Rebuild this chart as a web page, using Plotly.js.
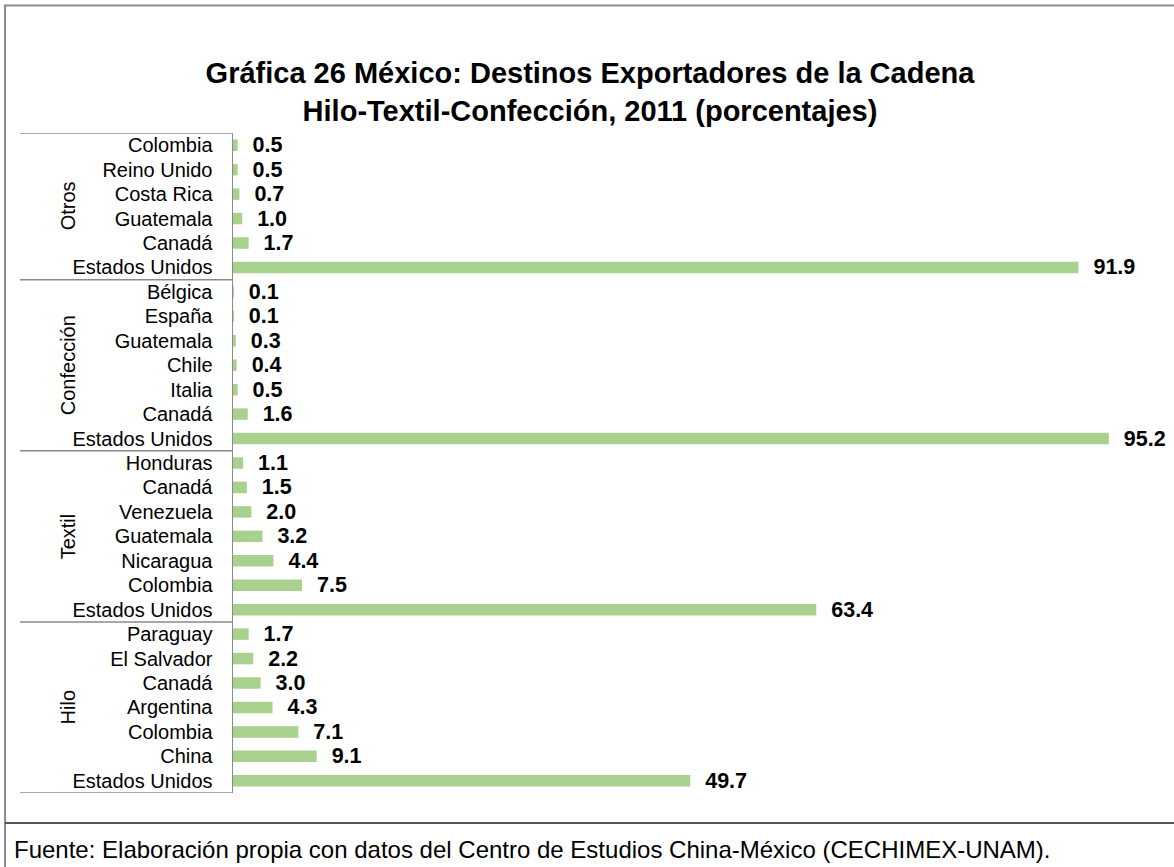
<!DOCTYPE html>
<html>
<head>
<meta charset="utf-8">
<script src="https://cdn.plot.ly/plotly-3.0.1.min.js"></script>
<style>
html,body{margin:0;padding:0;background:#fff;}
#chart{width:1174px;height:867px;}
</style>
</head>
<body>
<div id="chart"></div>
<script>
// ---- data (top to bottom) ----
const groupNames = ["Otros", "Confección", "Textil", "Hilo"];
const otrosCountries = ["Colombia", "Reino Unido", "Costa Rica", "Guatemala", "Canadá", "Estados Unidos"];
const otrosValues = [0.5, 0.5, 0.7, 1.0, 1.7, 91.9];
const confeccionCountries = ["Bélgica", "España", "Guatemala", "Chile", "Italia", "Canadá", "Estados Unidos"];
const confeccionValues = [0.1, 0.1, 0.3, 0.4, 0.5, 1.6, 95.2];
const textilCountries = ["Honduras", "Canadá", "Venezuela", "Guatemala", "Nicaragua", "Colombia", "Estados Unidos"];
const textilValues = [1.1, 1.5, 2.0, 3.2, 4.4, 7.5, 63.4];
const hiloCountries = ["Paraguay", "El Salvador", "Canadá", "Argentina", "Colombia", "China", "Estados Unidos"];
const hiloValues = [1.7, 2.2, 3.0, 4.3, 7.1, 9.1, 49.7];

const titleLines = ["Gráfica 26 México: Destinos Exportadores de la Cadena", "Hilo-Textil-Confección, 2011 (porcentajes)"];
const sourceText = "Fuente: Elaboración propia con datos del Centro de Estudios China-México";
const sourceTag = "(CECHIMEX-UNAM).";

// ---- assemble ----
const groupCountries = [otrosCountries, confeccionCountries, textilCountries, hiloCountries];
const groupValues = [otrosValues, confeccionValues, textilValues, hiloValues];
const labels = [], values = [], pos = [];
const groupBounds = [];
let idx = 0;
groupCountries.forEach((cs, g) => {
  const start = idx;
  cs.forEach((c, i) => { labels.push(c); values.push(groupValues[g][i]); pos.push(idx); idx++; });
  groupBounds.push([start, idx - 1]);
});
const n = labels.length;

// ---- geometry helpers (pixel -> paper) ----
const W = 1174, H = 867;
const M = {l: 233, r: 1, t: 133, b: 74};
const PW = W - M.l - M.r, PH = H - M.t - M.b;
const px = x => (x - M.l) / PW;
const py = y => (H - M.b - y) / PH;

const font = "Arial, 'Liberation Sans', sans-serif";
const shapes = [];
const annotations = [];

// group separators in the category label area
const sepLeft = px(20);
const bounds = [-0.5].concat(groupBounds.map(b => b[1] + 0.5));
bounds.forEach(b => {
  shapes.push({type: "line", xref: "paper", yref: "y", x0: sepLeft, x1: 0, y0: b, y1: b,
               line: {color: "#8a8a8a", width: 1.5}});
});
// group labels
groupBounds.forEach((b, g) => {
  annotations.push({xref: "paper", yref: "y", x: px(68), y: (b[0] + b[1]) / 2,
                    text: groupNames[g], textangle: -90, showarrow: false,
                    xanchor: "center", yanchor: "middle",
                    font: {family: font, size: 20, color: "#000"}});
});
// outer frame
shapes.push({type: "line", xref: "paper", yref: "paper", x0: px(5), x1: px(1180), y0: py(5.5), y1: py(5.5),
             line: {color: "#8c8c8c", width: 2}});
shapes.push({type: "line", xref: "paper", yref: "paper", x0: px(5), x1: px(5), y0: py(4.5), y1: py(870),
             line: {color: "#8c8c8c", width: 2}});
// footer separator
shapes.push({type: "line", xref: "paper", yref: "paper", x0: px(5), x1: px(1180), y0: py(823), y1: py(823),
             line: {color: "#555555", width: 2}});
// footer text
annotations.push({xref: "paper", yref: "paper", x: px(12), y: py(849), xanchor: "left", yanchor: "middle",
                  showarrow: false, align: "left",
                  text: sourceText + " <span style=\"font-size:24px\">" + sourceTag + "</span>",
                  font: {family: font, size: 24, color: "#000"}});

const trace = {
  type: "bar",
  orientation: "h",
  x: values,
  y: pos,
  width: 0.47,
  marker: {color: "#a9d18e", line: {width: 0}},
  text: values.map(v => v.toFixed(1)),
  texttemplate: "\u00a0\u00a0%{text}",
  textposition: "outside",
  constraintext: "none",
  cliponaxis: false,
  textfont: {family: font, size: 21.5, color: "#000", weight: "bold"},
  hoverinfo: "skip"
};

const layout = {
  width: W, height: H,
  margin: M,
  paper_bgcolor: "#ffffff",
  plot_bgcolor: "#ffffff",
  showlegend: false,
  title: {
    text: titleLines.map(t => "<b>" + t + "</b>").join("<br>"),
    font: {family: font, size: 29, color: "#000"},
    xref: "container", yref: "container",
    x: 590 / W, xanchor: "center",
    y: 1 - 83 / H, yanchor: "middle"
  },
  xaxis: {
    range: [0, PW / 9.2],
    showgrid: false, zeroline: false, showticklabels: false, showline: false, ticks: ""
  },
  yaxis: {
    range: [n - 0.5, -0.5],
    tickmode: "array",
    tickvals: pos,
    ticktext: labels,
    ticks: "",
    ticklabelstandoff: 15,
    showgrid: false, zeroline: false,
    showline: true, linecolor: "#8a8a8a", linewidth: 1.5,
    tickfont: {family: font, size: 20, color: "#000"}
  },
  shapes: shapes,
  annotations: annotations,
  bargap: 0.5
};

Plotly.newPlot("chart", [trace], layout, {displayModeBar: false, staticPlot: true});
</script>
</body>
</html>
